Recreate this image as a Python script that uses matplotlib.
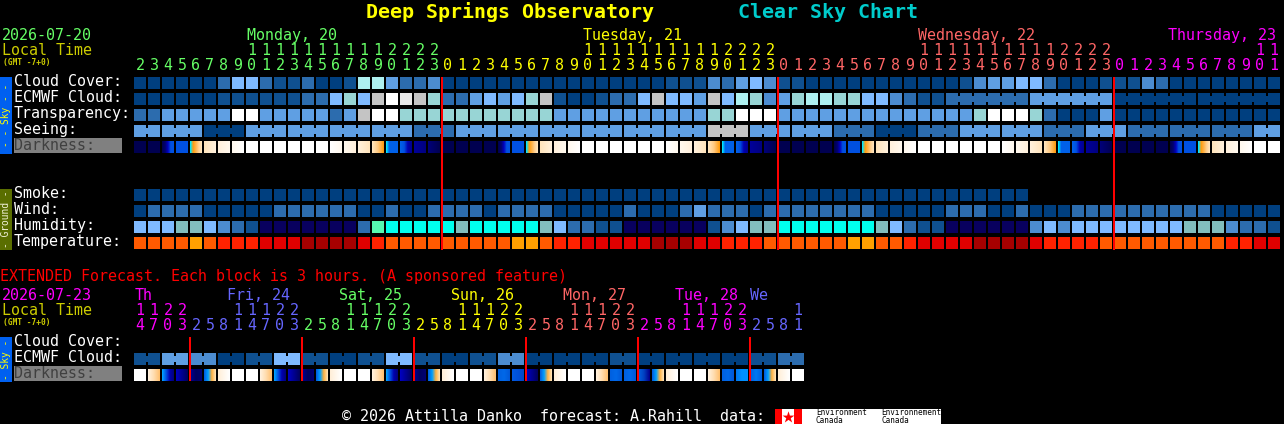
#!/usr/bin/env python3
# Clear sky chart, drawn block by block on a pixel sized axes

import matplotlib
matplotlib.use('Agg')
import matplotlib.pyplot as plt
from matplotlib.colors import LinearSegmentedColormap, to_hex
from matplotlib.patches import Rectangle

FONT = 'DejaVu Sans Mono'

# block colours, a row of levels indexes into this list
LEVEL_COLORS = ['#003f7f', '#0f5090', '#2c6cae', '#4c8cd0', '#5f9fe3', '#7fbaff',
                '#98d5d5', '#aef0f0', '#c4c4c4', '#e8e8e8', '#ffffff',
                '#08005e', '#82bebe', '#55f8b0', '#00ffee',
                '#ff5a00', '#ffa000', '#ff2200', '#e00000', '#a60000']

cloud = [0, 0, 0, 0, 0, 0, 2, 5, 5, 2, 1, 1, 2, 0, 0, 1, 7, 7, 4, 2, 2, 3,
         0, 0, 0, 0, 0, 0, 0, 0, 0, 0, 0, 0, 0, 0, 0, 0, 1, 1, 1, 3, 2, 4, 5, 3,
         1, 1, 0, 0, 0, 0, 0, 0, 0, 0, 0, 0, 0, 1, 3, 4, 4, 5, 5, 2, 0, 0, 0, 1,
         1, 1, 3, 2, 0, 0, 0, 0, 0, 0, 0, 0]
ecmwf = [0, 0, 0, 0, 0, 0, 1, 1, 1, 1, 1, 1, 2, 2, 5, 6, 5, 8, 10, 9, 8, 6,
         2, 2, 4, 5, 4, 5, 6, 8, 1, 0, 0, 1, 2, 2, 5, 8, 5, 5, 4, 8, 5, 7, 6, 3,
         4, 6, 7, 7, 6, 6, 5, 5, 3, 2, 1, 1, 2, 2, 2, 2, 2, 2, 4, 4, 4, 4, 4, 4,
         0, 0, 0, 0, 0, 0, 0, 0, 0, 0, 0, 0]
transparency = [2, 2, 4, 4, 4, 4, 4, 10, 10, 4, 4, 4, 4, 4, 2, 4, 8, 10, 10, 6, 6, 6,
                6, 6, 6, 6, 6, 6, 6, 6, 4, 4, 4, 4, 4, 4, 4, 4, 4, 4, 4, 6, 6, 10, 10, 10,
                4, 4, 4, 4, 4, 4, 4, 4, 4, 4, 4, 4, 4, 4, 6, 10, 10, 10, 6, 2, 0, 0, 0, 4,
                0, 0, 0, 0, 0, 0, 0, 0, 0, 0, 0, 0]
seeing = [4, 4, 4, 4, 4, 0, 0, 0, 4, 4, 4, 4, 4, 4, 4, 4, 4, 4, 4, 4, 2, 2,
          2, 4, 4, 4, 4, 4, 4, 4, 4, 4, 4, 4, 4, 4, 4, 4, 4, 4, 4, 8, 8, 8, 4, 4,
          4, 4, 4, 4, 2, 2, 2, 0, 0, 0, 2, 2, 2, 4, 4, 4, 4, 4, 4, 2, 2, 2, 4, 4,
          4, 2, 2, 2, 2, 2, 2, 2, 2, 2, 4, 4]
smoke = [0] * 64
wind = [0, 2, 2, 2, 2, 0, 0, 0, 0, 0, 2, 2, 2, 2, 2, 2, 0, 0, 2, 0, 0, 2,
        2, 2, 2, 0, 2, 2, 2, 2, 0, 0, 0, 0, 0, 2, 0, 0, 0, 2, 4, 2, 2, 2, 0, 2,
        2, 2, 2, 2, 2, 2, 2, 0, 0, 0, 0, 0, 2, 2, 2, 0, 0, 2, 0, 0, 0, 2, 2, 2,
        2, 2, 2, 2, 2, 2, 2, 0, 0, 0, 0, 0]
humidity = [5, 5, 5, 12, 12, 5, 3, 2, 1, 11, 11, 11, 11, 11, 11, 11, 2, 13, 14, 14, 14, 14,
            14, 12, 14, 14, 14, 14, 14, 12, 5, 2, 2, 1, 1, 11, 11, 11, 11, 11, 11, 1, 3, 5, 12, 12,
            14, 14, 14, 14, 14, 14, 14, 12, 5, 2, 1, 1, 11, 11, 11, 11, 11, 11, 3, 5, 3, 5, 5, 5,
            5, 5, 5, 5, 5, 12, 12, 12, 3, 2, 2, 1]
temperature = [15, 15, 15, 15, 16, 15, 17, 17, 17, 18, 18, 18, 19, 19, 19, 19, 18, 17, 15, 15, 15, 15,
               15, 15, 15, 15, 15, 16, 16, 15, 17, 17, 18, 18, 18, 18, 18, 19, 19, 19, 18, 18, 17, 17, 17, 15,
               15, 15, 15, 15, 15, 16, 16, 15, 15, 17, 18, 18, 18, 18, 19, 19, 19, 19, 18, 17, 17, 17, 17, 15,
               15, 15, 15, 15, 15, 15, 15, 15, 17, 17, 18, 18]
ext_ecmwf = [1, 1, 4, 4, 3, 3, 0, 0, 1, 1, 5, 5, 1, 1, 0, 0, 1, 1, 5, 5, 1, 1, 0, 0,
             1, 1, 3, 3, 0, 0, 0, 0, 0, 0, 1, 1, 0, 0, 0, 0, 0, 0, 0, 0, 1, 1, 2, 2]

# darkness shades: a block fades through its stops from left to right
SHADES = {
    'W': ['#ffffff', '#ffffff'],
    'N0': ['#000050', '#000050'],
    'N1': ['#000078', '#000050'],
    'N2': ['#000098', '#000080'],
    'B': ['#0050e0', '#0050e0'],
    'G1': ['#000050', '#000070', '#0000c0', '#0050e0', '#0050e0'],
    'SR': ['#00e5ff', '#ff9c10', '#ffb44c', '#ffd090', '#ffe4bc'],
    'C2': ['#ffe4bc', '#fff0dc'],
    'C1': ['#fff0dc', '#fff8ee'],
    'C0': ['#fff8ee', '#ffffff'],
    'E0': ['#ffffff', '#fff8ee'],
    'E1': ['#fff8ee', '#fff0dc'],
    'E2': ['#fff0dc', '#ffe4bc'],
    'SS': ['#ffe4bc', '#ffc880', '#ff9c10'],
    'BC': ['#00e5ff', '#0060e8', '#0060e8', '#0060e8', '#0060e8'],
    'BD': ['#0060e8', '#0050e0', '#0000b0', '#000090'],
    'XE': ['#fff0dc', '#ffdcae', '#ffc070'],
    'XB': ['#00a0ff', '#0050e0', '#0000b0', '#000080'],
    'XD': ['#0000c0', '#000090', '#000060'],
    'XN': ['#000090', '#000060', '#000070'],
    'XM': ['#0060e0', '#00a0ff', '#ffb040', '#ffe0b0'],
    'XC': ['#ffeed8', '#ffffff'],
    'B1': ['#0060e0', '#0068e8', '#0058d8'],
    'B2': ['#0058e0', '#0050d8', '#0048c8'],
    'B3': ['#0078f0', '#0090ff', '#0090ff'],
    'B4': ['#0060e0', '#0078f0', '#0060e0'],
    'D2': ['#0060e0', '#0040c0', '#000090'],
}

darkness = ['N0', 'N0', 'G1', 'B', 'SR', 'C2', 'C1', 'C0', 'W', 'W', 'W', 'W', 'W', 'W',
            'E0', 'E1', 'E2', 'SS', 'BC', 'BD', 'N2', 'N1',
            'N0', 'N0', 'N0', 'N0', 'G1', 'B', 'SR', 'C2', 'C1', 'C0', 'W', 'W', 'W', 'W', 'W', 'W',
            'E0', 'E1', 'E2', 'SS', 'BC', 'BD', 'N2', 'N1',
            'N0', 'N0', 'N0', 'N0', 'G1', 'B', 'SR', 'C2', 'C1', 'C0', 'W', 'W', 'W', 'W', 'W', 'W',
            'E0', 'E1', 'E2', 'SS', 'BC', 'BD', 'N2', 'N1',
            'N0', 'N0', 'N0', 'N0', 'G1', 'B', 'SR', 'C2', 'C1', 'C0', 'W', 'W']
ext_darkness = ['W', 'XE', 'XB', 'XD', 'XN', 'XM', 'XC', 'W', 'W', 'XE', 'XB', 'XD', 'XN', 'XM', 'XC', 'W',
                'W', 'XE', 'XB', 'XD', 'XN', 'XM', 'XC', 'W', 'W', 'XE', 'B1', 'B2', 'XD', 'XM', 'XC', 'W',
                'W', 'XE', 'B1', 'B1', 'D2', 'XM', 'XC', 'W', 'W', 'XE', 'B1', 'B3', 'B4', 'XM', 'XC', 'W']

hours = list(range(2, 24)) + list(range(24)) * 2 + list(range(12))
hour_colors = ['#66ff66'] * 22 + ['#ffff00'] * 24 + ['#ff6666'] * 24 + ['#ff00ff'] * 12
ext_hours = [14, 17, 20, 23] + [2, 5, 8, 11, 14, 17, 20, 23] * 5 + [2, 5, 8, 11]
ext_hour_colors = (['#ff00ff'] * 4 + ['#6666ff'] * 8 + ['#66ff66'] * 8 + ['#ffff00'] * 8
                   + ['#ff6666'] * 8 + ['#ff00ff'] * 8 + ['#6666ff'] * 4)

day_labels = ['Monday, 20', 'Tuesday, 21', 'Wednesday, 22', 'Thursday, 23']
day_label_x = [247, 583, 918, 1168]
day_label_colors = ['#66ff66', '#ffff00', '#ff6666', '#ff00ff']
ext_day_labels = ['Th', 'Fri, 24', 'Sat, 25', 'Sun, 26', 'Mon, 27', 'Tue, 28', 'We']
ext_day_x = [135, 227, 339, 451, 563, 675, 750]
ext_day_colors = ['#ff00ff', '#6666ff', '#66ff66', '#ffff00', '#ff6666', '#ff00ff', '#6666ff']

sky_labels = ['Cloud Cover:', 'ECMWF Cloud:', 'Transparency:', 'Seeing:']
ground_labels = ['Smoke:', 'Wind:', 'Humidity:', 'Temperature:']

X0 = 134
PITCH = 14
SIZE = 12


def put_text(ax, x, y, s, color='white', size=10.8, **kw):
    # y is the middle of the capitals, descenders must not move the line
    y_base = y + size * 100 / 72 * 0.365
    kw.setdefault('ha', 'left')
    ax.text(x, y_base, s, color=color, fontsize=size, family=FONT, va='baseline', **kw)


def box(ax, x, y, w, h, color, zorder=2):
    ax.add_patch(Rectangle((x, y), w, h, facecolor=color, edgecolor='none',
                           antialiased=False, zorder=zorder))


def draw_row(ax, levels, y, group=1, first=0):
    # blocks in one forecast group are joined by a small bridge
    for k, level in enumerate(levels):
        color = LEVEL_COLORS[level]
        x = X0 + k * PITCH
        box(ax, x, y, SIZE, SIZE, color)
        joined = group > 1 and k + 1 < len(levels) and (k + 1 - first) % group != 0
        if joined:
            box(ax, x + SIZE, y + 3, PITCH - SIZE, SIZE - 6, color)


def draw_darkness(ax, shades, y):
    for k, name in enumerate(shades):
        cmap = LinearSegmentedColormap.from_list(name, SHADES[name], N=SIZE)
        for col in range(SIZE):
            box(ax, X0 + k * PITCH + col, y, 1, SIZE, to_hex(cmap(col)))


def draw_hours(ax, values, colors, y_tens, y_ones):
    for k, (h, c) in enumerate(zip(values, colors)):
        x = X0 + k * PITCH + 6
        if h >= 10:
            put_text(ax, x, y_tens, str(h // 10), c, ha='center')
        put_text(ax, x, y_ones, str(h % 10), c, ha='center')


def side_bar(ax, y0, y1, color, text, text_color):
    box(ax, 0, y0, 12, y1 - y0, color)
    ax.text(6, (y0 + y1) / 2, text, color=text_color, fontsize=6.9, family=FONT,
            rotation=90, ha='center', va='center')


fig = plt.figure(figsize=(12.84, 4.24), dpi=100, facecolor='black')
ax = fig.add_axes([0, 0, 1, 1])
ax.set_xlim(0, 1284)
ax.set_ylim(424, 0)
ax.axis('off')

# title
put_text(ax, 366, 11, 'Deep Springs Observatory', '#ffff00', size=14.4, weight='bold')
put_text(ax, 738, 11, 'Clear Sky Chart', '#00cccc', size=14.4, weight='bold')

# main header
put_text(ax, 2, 35, '2026-07-20', '#66ff66')
put_text(ax, 2, 50, 'Local Time', '#cccc00')
put_text(ax, 3, 62, '(GMT -7+0)', '#cccc00', size=5.7, weight='bold')
for label, x, c in zip(day_labels, day_label_x, day_label_colors):
    put_text(ax, x, 35, label, c)
draw_hours(ax, hours, hour_colors, 50, 65)

# sky and ground rows
side_bar(ax, 77, 154, '#0060f0', '- - Sky - -', '#ffff00')
side_bar(ax, 189, 250, '#5a6e00', '- Ground -', '#f0f0d8')
for i, label in enumerate(sky_labels):
    put_text(ax, 14, 81 + i * 16, label)
box(ax, 14, 138, 108, 15, '#808080')
put_text(ax, 14, 145, 'Darkness:', '#404040')
for i, label in enumerate(ground_labels):
    put_text(ax, 14, 193 + i * 16, label)

draw_row(ax, cloud, 77)
draw_row(ax, ecmwf, 93)
# the last ECMWF blocks are six hour values, joined below
for k in range(58, 81):
    if (k + 1 - 58) % 6 != 0:
        box(ax, X0 + k * PITCH + SIZE, 96, PITCH - SIZE, SIZE - 6, LEVEL_COLORS[ecmwf[k]])
draw_row(ax, transparency, 109)
draw_row(ax, seeing, 125, group=3, first=2)
draw_darkness(ax, darkness, 141)
draw_row(ax, smoke, 189)
draw_row(ax, wind, 205)
draw_row(ax, humidity, 221)
draw_row(ax, temperature, 237)

# midnight lines
for x in [441, 777, 1113]:
    box(ax, x, 77, 2, 173, '#ff0000', zorder=5)

# extended forecast
put_text(ax, 0, 276, 'EXTENDED Forecast. Each block is 3 hours. (A sponsored feature)', '#ff0000')
put_text(ax, 2, 295, '2026-07-23', '#ff00ff')
put_text(ax, 2, 310, 'Local Time', '#cccc00')
put_text(ax, 3, 322, '(GMT -7+0)', '#cccc00', size=5.7, weight='bold')
for label, x, c in zip(ext_day_labels, ext_day_x, ext_day_colors):
    put_text(ax, x, 295, label, c)
draw_hours(ax, ext_hours, ext_hour_colors, 310, 325)

side_bar(ax, 337, 382, '#0060f0', '- Sky -', '#ffff00')
put_text(ax, 14, 341, 'Cloud Cover:')
put_text(ax, 14, 357, 'ECMWF Cloud:')
box(ax, 14, 366, 108, 15, '#808080')
put_text(ax, 14, 373, 'Darkness:', '#404040')
draw_row(ax, ext_ecmwf, 353, group=2)
draw_darkness(ax, ext_darkness, 369)
for x in [189, 301, 413, 525, 637, 749]:
    box(ax, x, 337, 2, 44, '#ff0000', zorder=5)

# footer and logo
put_text(ax, 342, 416, '\u00a9 2026 Attilla Danko  forecast: A.Rahill  data:')
box(ax, 775, 409, 166, 15, '#ffffff')
box(ax, 775, 409, 7, 15, '#ff0000')
box(ax, 794, 409, 8, 15, '#ff0000')
ax.scatter([788], [417], marker='*', s=80, color='#ff0000', linewidths=0, zorder=3)
for x, word in zip([816, 881], ['Environment', 'Environnement']):
    put_text(ax, x, 412, word, 'black', size=5.5, zorder=3)
    put_text(ax, x, 420, 'Canada', 'black', size=5.5, zorder=3)

fig.savefig('out.png', dpi=100, facecolor='black')
